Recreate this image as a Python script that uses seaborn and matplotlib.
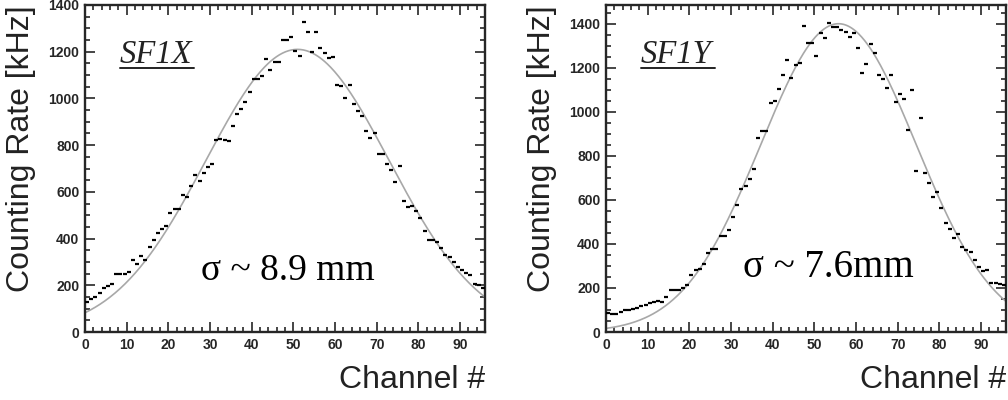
import numpy as np
import pandas as pd
import seaborn as sns
import matplotlib.pyplot as plt
from matplotlib.ticker import MultipleLocator

# Channel numbers (bin index, 96 fibre channels)
channels = np.arange(96)

# Counting rates [kHz]
sf1x_rate = [128, 140, 148, 168, 187, 195, 204, 247, 250, 250,
             258, 308, 290, 325, 310, 363, 394, 423, 440, 454,
             509, 526, 526, 588, 580, 623, 674, 645, 681, 705,
             721, 821, 827, 822, 817, 884, 935, 953, 986, 1028,
             1082, 1082, 1097, 1168, 1122, 1157, 1157, 1251, 1249, 1262,
             1204, 1180, 1329, 1283, 1197, 1286, 1216, 1193, 1171, 1178,
             1058, 1054, 1001, 1058, 978, 945, 925, 860, 832, 850,
             764, 760, 720, 695, 641, 710, 559, 535, 541, 520,
             490, 433, 394, 394, 387, 359, 330, 320, 301, 280,
             266, 254, 245, 205, 200, 190]
sf1y_rate = [88, 84, 80, 91, 99, 100, 104, 109, 116, 121,
             133, 138, 141, 136, 159, 193, 189, 190, 202, 212,
             261, 280, 287, 308, 359, 378, 379, 435, 435, 462,
             520, 579, 650, 665, 697, 742, 883, 913, 913, 1038,
             1050, 1103, 1165, 1235, 1152, 1211, 1221, 1389, 1314, 1314,
             1253, 1359, 1336, 1404, 1386, 1386, 1371, 1362, 1338, 1356,
             1288, 1177, 1217, 1306, 1265, 1167, 1149, 1106, 1165, 1045,
             1080, 1056, 917, 1099, 730, 970, 720, 676, 615, 636,
             561, 493, 470, 429, 447, 386, 371, 364, 329, 293,
             277, 283, 223, 223, 218, 215]

# Gaussian fit parameters: amplitude, mean, sigma (in channels)
sf1x_fit = (1210, 51.0, 22.0)
sf1y_fit = (1400, 55.8, 18.7)

names = ['SF1X', 'SF1Y']
sigma_texts = ['σ ~ 8.9 mm', 'σ ~ 7.6mm']
y_tops = [1400, 1485]
x_ticks = [0, 10, 20, 30, 40, 50, 60, 70, 80, 90]
y_ticks = [0, 200, 400, 600, 800, 1000, 1200, 1400]

sns.set_style('ticks')
plt.rcParams['font.family'] = ['Liberation Sans', 'DejaVu Sans']

fig = plt.figure(figsize=(10.08, 4), dpi=100)
axes = [fig.add_axes([85 / 1008, 68 / 400, 400 / 1008, 327 / 400]),
        fig.add_axes([606 / 1008, 68 / 400, 400 / 1008, 327 / 400])]

panels = zip(axes, [sf1x_rate, sf1y_rate], [sf1x_fit, sf1y_fit], names, sigma_texts, y_tops)
for i, (ax, rate, fit, name, sig_txt, ytop) in enumerate(panels):
    df = pd.DataFrame({'channel': channels + 0.5, 'rate': rate})

    # fitted gaussian
    amp, mu, sig = fit
    xs = np.linspace(0, 96, 400)
    sns.lineplot(x=xs, y=amp * np.exp(-0.5 * ((xs - mu) / sig) ** 2),
                 color='#a8a8a8', linewidth=1.2, ax=ax)

    # data points drawn as short dashes
    sns.scatterplot(data=df, x='channel', y='rate', marker='_', s=8,
                    linewidth=1.6, color='black', ax=ax, zorder=3)

    ax.set_xlim(0, 96)
    ax.set_ylim(0, ytop)
    ax.set_xticks(x_ticks, labels=[str(t) for t in x_ticks], fontweight='bold', fontsize=10)
    ax.set_yticks(y_ticks, labels=[str(t) for t in y_ticks], fontweight='bold', fontsize=10)
    ax.xaxis.set_minor_locator(MultipleLocator(2))
    ax.yaxis.set_minor_locator(MultipleLocator(50))
    ax.tick_params(which='both', direction='in', top=True, right=True, width=1.2)
    ax.tick_params(which='major', length=7, pad=4)
    ax.tick_params(which='minor', length=3.5)
    for s in ax.spines.values():
        s.set_linewidth(1.7)

    ax.set_xlabel('Channel #', loc='right', fontsize=23, color='#222222', labelpad=10)
    ax.set_ylabel('Counting Rate [kHz]', loc='top', fontsize=23, color='#222222', labelpad=9)

    # detector name, underlined
    ax.text(0.0875, 0.823, name, transform=ax.transAxes, fontsize=23.5,
            family='Liberation Serif', style='italic', color='#222222')
    ax.plot([0.0875, 0.272], [0.807, 0.807], transform=ax.transAxes,
            color='#222222', linewidth=1.4)

    ax.text(0.29 if i == 0 else 0.3425, 0.159 if i == 0 else 0.168, sig_txt,
            transform=ax.transAxes, fontsize=27 if i == 0 else 28,
            family='Liberation Serif', color='black')

fig.savefig('out.png', dpi=100)
